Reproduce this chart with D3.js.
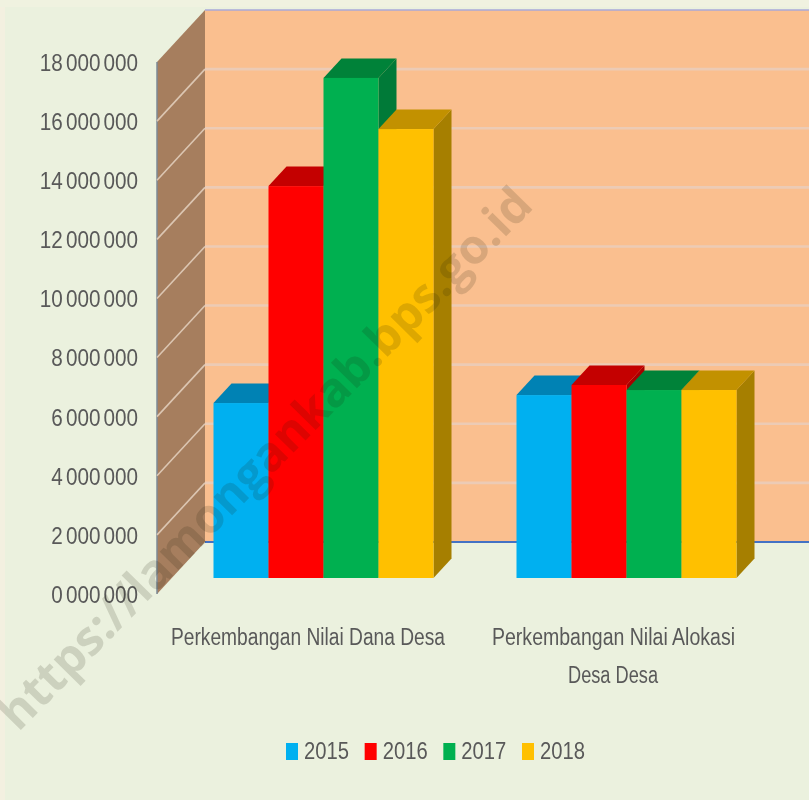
<!DOCTYPE html>
<html><head><meta charset="utf-8">
<script src="https://cdn.jsdelivr.net/npm/d3@7"></script>
<style>
html,body{margin:0;padding:0;background:#ebf1de}
svg{display:block;filter:blur(.5px)}
text{font-family:"Liberation Sans",sans-serif;fill:#595959}
</style></head><body><div id="chart"></div>
<script>
const categories=[["Perkembangan Nilai Dana Desa"],["Perkembangan Nilai Alokasi","Desa Desa"]];
const categoryKeys=["Dana","Alokasi"];
const years=["2015","2016","2017","2018"];
const v2015=[5920000,6190000];
const v2016=[13260000,6530000];
const v2017=[16920000,6360000];
const v2018=[15190000,6360000];
const seriesValues=[v2015,v2016,v2017,v2018];
const tickValues=[0,2e6,4e6,6e6,8e6,1e7,1.2e7,1.4e7,1.6e7,1.8e7];
const tickLabels=["0 000 000","2 000 000","4 000 000","6 000 000","8 000 000","10 000 000","12 000 000","14 000 000","16 000 000","18 000 000"];
const frontColors=["#00b0f0","#ff0000","#00b050","#ffc000"];
const topColors=["#0082b4","#c40000","#008239","#c29100"];
const sideColors=["#00729e","#a80000","#007a38","#a67f00"];

const W=809,H=800;
const svg=d3.select("#chart").append("svg").attr("width",W).attr("height",H);
svg.append("rect").attr("width",W).attr("height",H).attr("fill","#ebf1de");
svg.append("rect").attr("width",5).attr("height",H).attr("fill","#f3f0e0");
svg.append("rect").attr("width",W).attr("height",7).attr("fill","#f0f2e0");

const y=d3.scaleLinear().domain([0,18e6]).range([594,62]);
const wallX=157,wallDX=48,wallDY=52;
const barBaseShift=16,barDX=18,barDY=19.5;
const x0=d3.scaleBand().domain(categoryKeys).range([172,778]);
const x1=d3.scaleBand().domain(years).range([0,220]);
const pts=a=>a.map(p=>p.join(",")).join(" ");

// back wall + side wall
svg.append("rect").attr("x",wallX+wallDX).attr("y",y(18e6)-wallDY).attr("width",W-wallX-wallDX).attr("height",y(0)-y(18e6)).attr("fill","#fabf8f");
svg.append("polygon").attr("points",pts([[wallX,y(18e6)],[wallX+wallDX,y(18e6)-wallDY],[wallX+wallDX,y(0)-wallDY],[wallX,y(0)]])).attr("fill","#a67e5e");
svg.append("line").attr("x1",wallX).attr("x2",wallX).attr("y1",y(18e6)).attr("y2",y(0)).attr("stroke","#7d8a96").attr("stroke-width",1.5);

// gridlines
const grid=svg.append("g").attr("fill","none");
tickValues.slice(1,-1).forEach(t=>{
  grid.append("line").attr("x1",wallX).attr("y1",y(t)).attr("x2",wallX+wallDX).attr("y2",y(t)-wallDY).attr("stroke","#dcc6b2").attr("stroke-width",1.6);
  grid.append("line").attr("x1",wallX+wallDX).attr("y1",y(t)-wallDY).attr("x2",W).attr("y2",y(t)-wallDY).attr("stroke","#eccbb5").attr("stroke-width",2.6);
});
svg.append("line").attr("x1",wallX+wallDX).attr("x2",W).attr("y1",y(18e6)-wallDY).attr("y2",y(18e6)-wallDY).attr("stroke","#a9a9d8").attr("stroke-width",1.5);
svg.append("line").attr("x1",wallX+wallDX).attr("x2",W).attr("y1",y(0)-wallDY).attr("y2",y(0)-wallDY).attr("stroke","#4472c4").attr("stroke-width",2);

// bars
categoryKeys.forEach((c,ci)=>{
  const off=x0(c)+(x0.bandwidth()-220)/2;
  const g=svg.append("g").attr("class","group");
  years.forEach((yr,si)=>{
    const v=seriesValues[si][ci];
    const l=off+x1(yr),r=l+x1.bandwidth();
    const b=y(0)-barBaseShift,t=y(v)-barBaseShift;
    g.append("polygon").attr("points",pts([[r,t],[r+barDX,t-barDY],[r+barDX,b-barDY],[r,b]])).attr("fill",sideColors[si]);
    g.append("polygon").attr("points",pts([[l,t],[l+barDX,t-barDY],[r+barDX,t-barDY],[r,t]])).attr("fill",topColors[si]);
    g.append("rect").attr("x",l).attr("y",t).attr("width",r-l).attr("height",b-t).attr("fill",frontColors[si]);
  });
});

// y axis
const tickScale=.9;
const axis=d3.axisLeft(y).tickValues(tickValues).tickSize(0).tickPadding(19)
  .tickFormat(d=>tickLabels[tickValues.indexOf(d)]);
const ag=svg.append("g").attr("transform",`translate(${wallX},1)`).call(axis);
ag.select(".domain").remove();
ag.selectAll("text").attr("font-size",23).attr("font-family",null).attr("fill","#595959")
  .style("word-spacing","-3px")
  .attr("x",-19/tickScale).attr("transform",`scale(${tickScale},1)`);

// category labels: centred on the measured positions, narrowed to match
const labelCentres=[[308],[613.5,613]];
const labelWidths=[[274],[243,90]];
categories.forEach((lines,i)=>{
  lines.forEach((ln,j)=>{
    svg.append("text").attr("transform",`translate(${labelCentres[i][j]},${645+j*38})`)
      .attr("text-anchor","middle").attr("font-size",23)
      .attr("textLength",labelWidths[i][j]).attr("lengthAdjust","spacingAndGlyphs").text(ln);
  });
});

// legend
const legX=d3.scalePoint().domain(years).range([286,522]);
years.forEach((yr,i)=>{
  svg.append("rect").attr("x",legX(yr)).attr("y",743).attr("width",12).attr("height",17).attr("fill",frontColors[i]);
  svg.append("text").attr("x",legX(yr)+18).attr("y",759).attr("font-size",24)
    .attr("textLength",45).attr("lengthAdjust","spacingAndGlyphs").text(yr);
});

// watermark
svg.append("text").attr("transform","translate(535,207) rotate(-45.5)").attr("text-anchor","end")
  .style("font-family",'"Open Sans",sans-serif').style("font-weight",700).style("fill","rgba(30,30,10,.15)")
  .attr("font-size",48).text("https://lamongankab.bps.go.id");
</script></body></html>
